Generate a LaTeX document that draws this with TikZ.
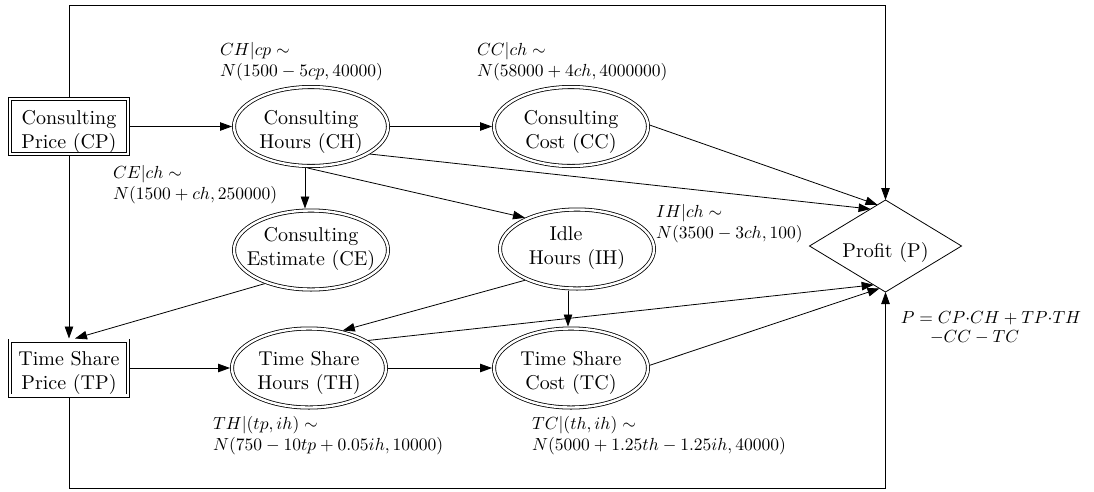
\documentclass[tikz,border=0pt]{standalone}
\usepackage{graphicx}
\usetikzlibrary{shapes.geometric,arrows.meta}
\newcommand{\nodetwo}[3]{\makebox[0pt]{\raisebox{#1}[0pt][0pt]{\scalebox{2}{\begin{tabular}[t]{@{}c@{}}#2\\#3\end{tabular}}}}}
\newcommand{\labtwo}[2]{\scalebox{1.75}{\begin{tabular}[t]{@{}l@{}}#1\\#2\end{tabular}}}
\tikzset{
  dbl/.style={draw, double, double distance=2.4pt, line width=0.8pt, outer sep=2pt, inner sep=0pt},
  chance/.style={dbl, ellipse, minimum width=154pt, minimum height=79pt},
  decision/.style={dbl, rectangle, minimum width=118pt, minimum height=55pt},
  utility/.style={draw, diamond, line width=0.8pt, minimum width=152pt, minimum height=92pt, inner sep=0pt, outer sep=0pt},
  arr/.style={line width=0.8pt, -{Triangle[length=12pt,width=8.5pt]}},
  lab/.style={anchor=base west, inner sep=0pt}
}
\begin{document}
\begin{tikzpicture}[x=1pt,y=-1pt]
\useasboundingbox (0,0) rectangle (1094,491);
% nodes
\node[decision] (CP) at (69,126.5) {\nodetwo{2.5pt}{Consulting}{Price (CP)}};
\node[decision] (TP) at (69,368) {\nodetwo{2.5pt}{Time Share}{Price (TP)}};
\node[chance] (CH) at (311,126.5) {\nodetwo{2.5pt}{Consulting}{Hours (CH)}};
\node[chance] (CC) at (571,126.5) {\nodetwo{2.5pt}{Consulting}{Cost (CC)}};
\node[chance] (CE) at (311,250) {\nodetwo{9pt}{Consulting}{Estimate (CE)}};
\node[chance] (IH) at (577,249) {\nodetwo{9pt}{Idle\hspace*{11pt}}{Hours (IH)}};
\node[chance] (TH) at (309,368) {\nodetwo{2.5pt}{Time Share}{Hours (TH)}};
\node[chance] (TC) at (571,368) {\nodetwo{2.5pt}{Time Share}{Cost (TC)}};
\node[utility] (P) at (885.5,246) {\makebox[0pt]{\raisebox{-11pt}[0pt][0pt]{\scalebox{2}{Profit (P)}}}};
% labels
\node[lab] (lCH) at (220,55) {\labtwo{$CH|cp \sim$}{$N(1500-5cp,40000)$}};
\node[lab] (lCC) at (477,55) {\labtwo{$CC|ch \sim$}{$N(58000+4ch,4000000)$}};
\node[lab] (lCE) at (113,178.5) {\labtwo{$CE|ch \sim$}{$N(1500+ch,250000)$}};
\node[lab] (lIH) at (656,217.5) {\labtwo{$IH|ch \sim$}{$N(3500-3ch,100)$}};
\node[lab] (lTH) at (213,429) {\labtwo{$TH|(tp,ih) \sim$}{$N(750-10tp+0.05ih,10000)$}};
\node[lab] (lTC) at (532,429) {\labtwo{$TC|(th,ih) \sim$}{$N(5000+1.25th-1.25ih,40000)$}};
\node[lab] (lP) at (900.7,323) {\scalebox{1.75}{\begin{tabular}[t]{@{}l@{}}$P = CP{\cdot}CH + TP{\cdot}TH$\\[-1.1pt]\hspace*{16.7pt}$-CC - TC$\end{tabular}}};
% frame corners
\coordinate (ttop) at (0,5);
\coordinate (bbot) at (0,488.5);
% connectors
\draw[arr] (CP) -- (CH);
\draw[arr] (CH) -- (CC);
\draw[arr] ([xshift=-6pt]CH.south) -- ([xshift=-6pt]CE.north);
\draw[arr] (CH.265) -- (IH.149);
\draw[arr] (CH.-25) -- (P.112);
\draw[arr] (CC.1) -- (P.101);
\draw[arr] (CP.south) -- (TP.north);
\draw[arr] (CE.216) -- ([xshift=6pt]TP.north);
\draw[arr] (IH.211) -- (TH.48);
\draw[arr] ([xshift=-9pt]IH.south) -- ([xshift=-3pt]TC.north);
\draw[arr] (TP) -- (TH);
\draw[arr] (TH) -- (TC);
\draw[arr] (TH.25) -- (P.253);
\draw[arr] (TC.2) -- (P.262);
\draw[arr] (CP.north) |- (P.north |- ttop) -- (P.north);
\draw[arr] (TP.south) |- (P.south |- bbot) -- (P.south);
\end{tikzpicture}
\end{document}
